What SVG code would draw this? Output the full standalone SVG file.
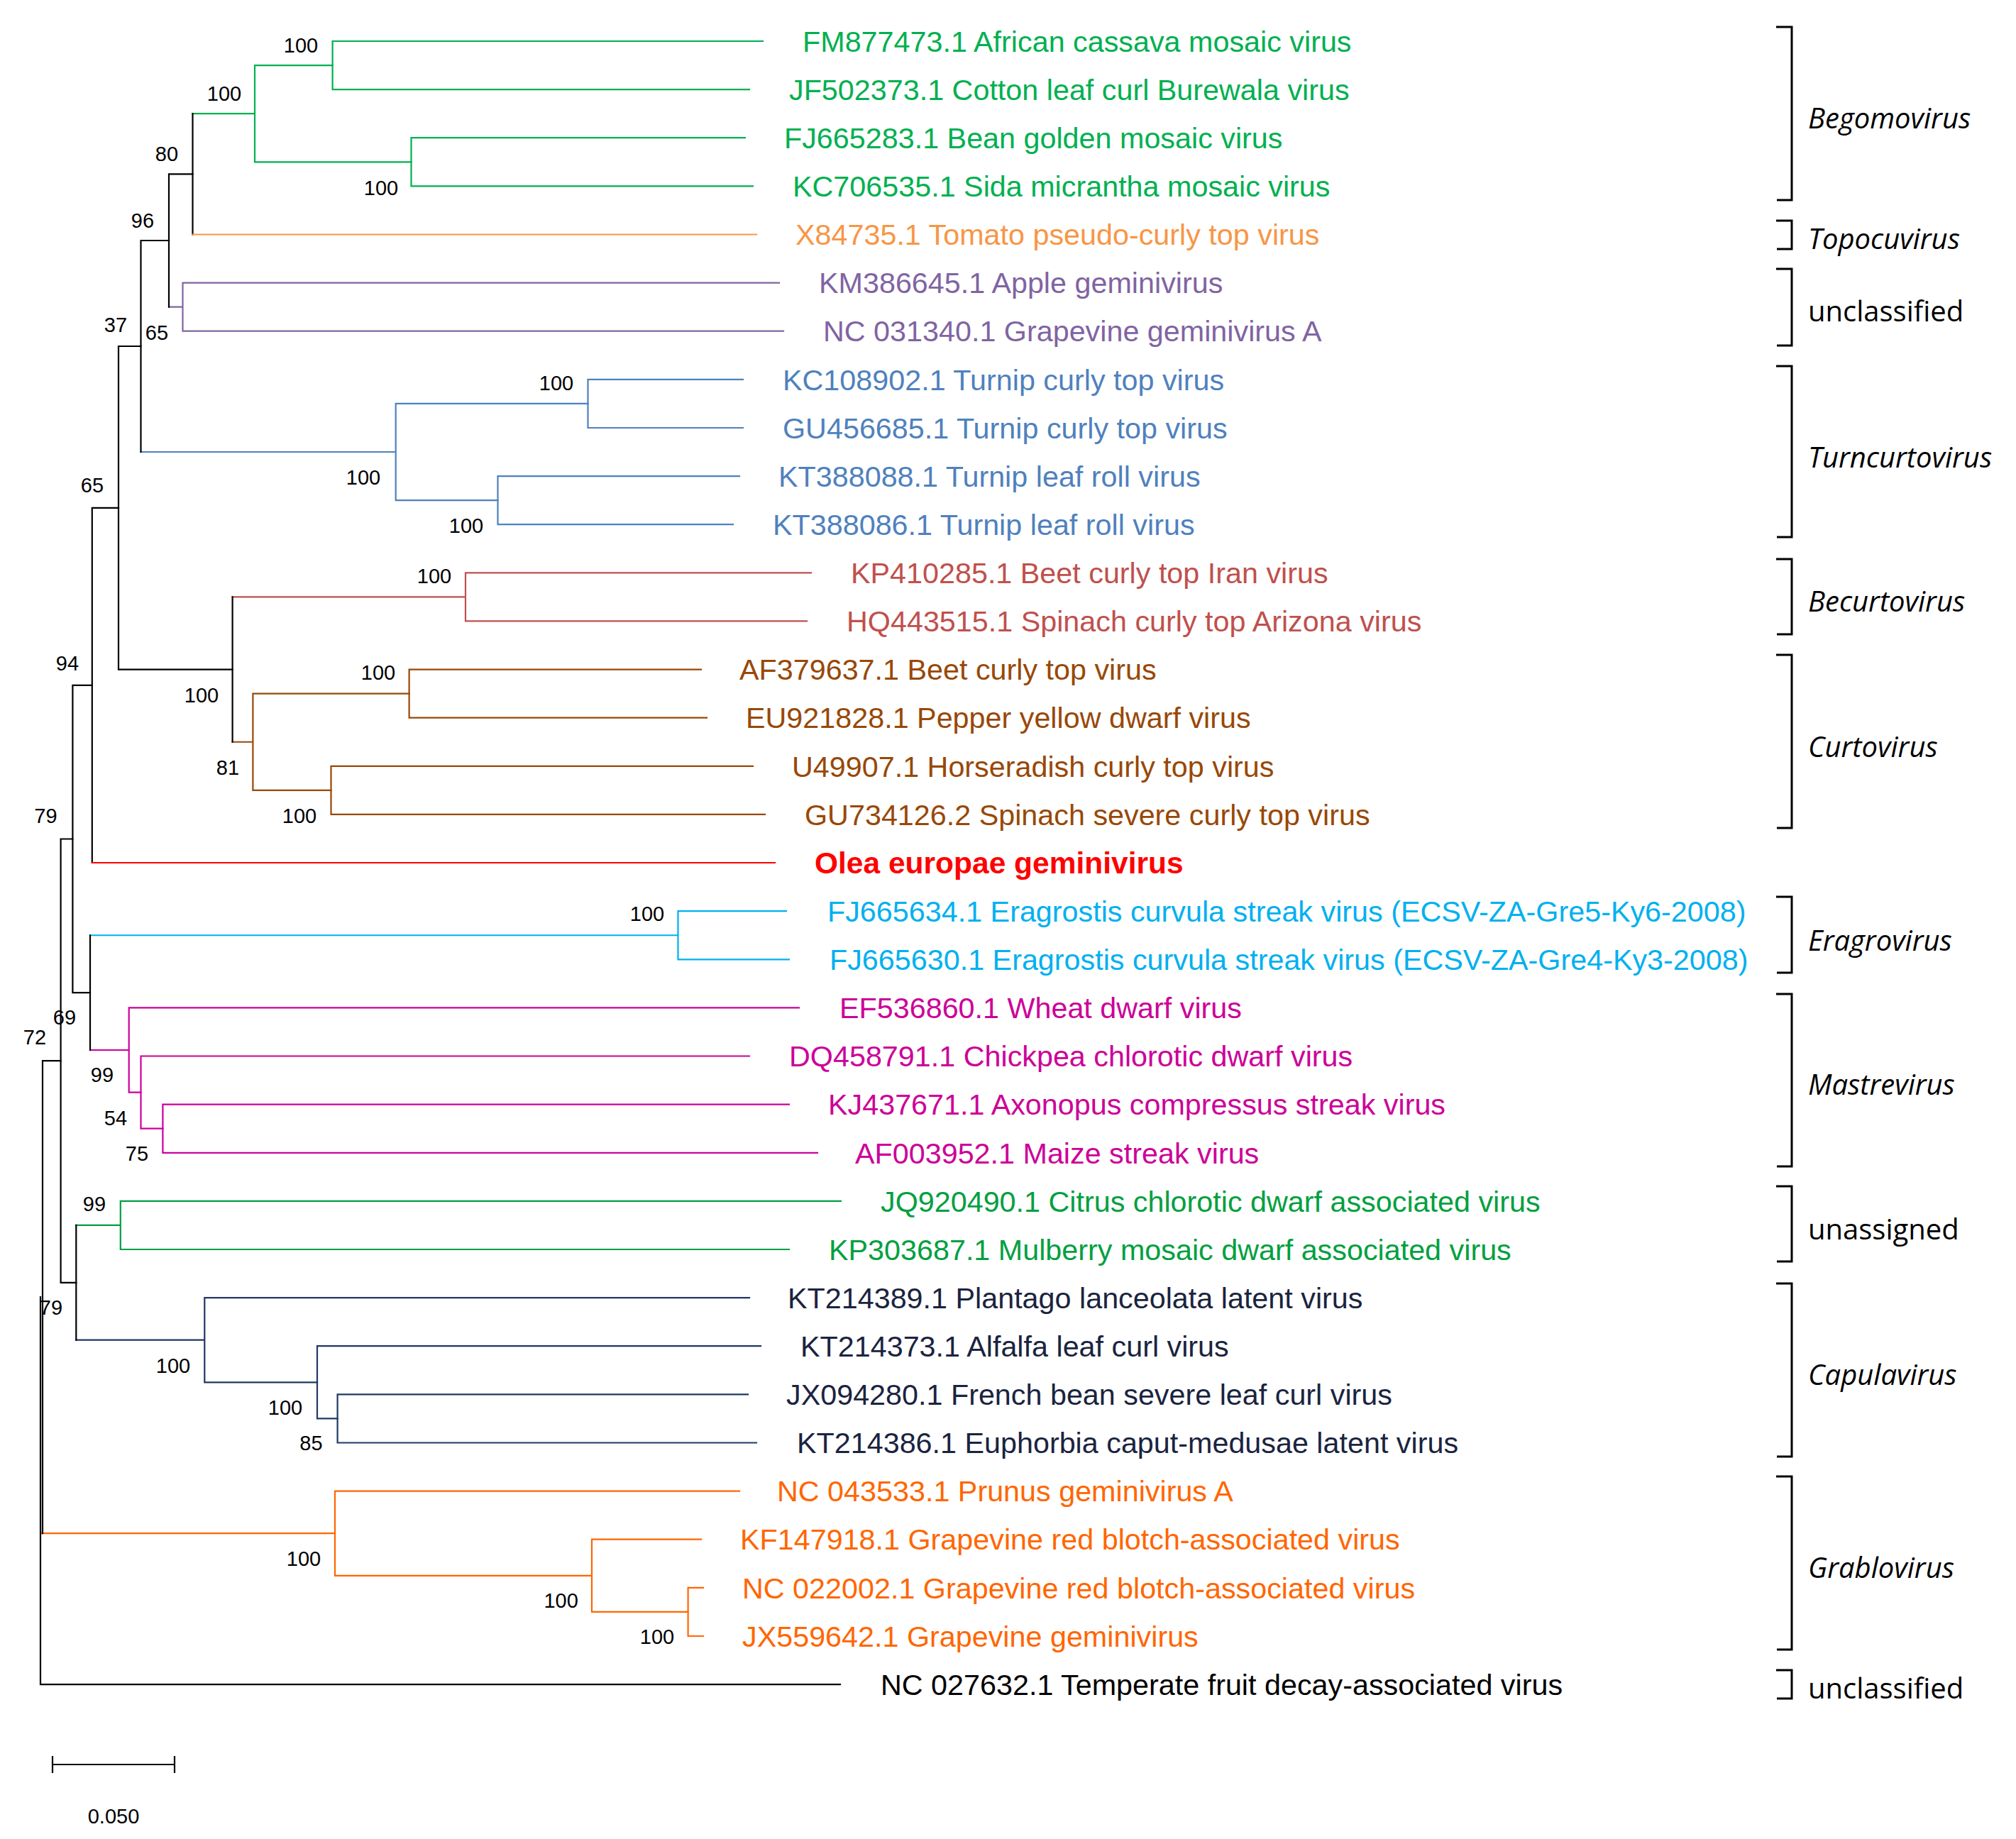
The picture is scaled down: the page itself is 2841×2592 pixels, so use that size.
<svg xmlns="http://www.w3.org/2000/svg" width="2841" height="2592" viewBox="0 0 2841 2592">
<style>
.b{fill:none;stroke-width:2.2;stroke-linecap:square}
.k{stroke:#000}
.g1{stroke:#00B050}.t1{fill:#00B050}
.or{stroke:#F79646}.tor{fill:#F79646}
.pu{stroke:#8064A2}.tpu{fill:#8064A2}
.bl{stroke:#4F81BD}.tbl{fill:#4F81BD}
.rd{stroke:#C0504D}.trd{fill:#C0504D}
.br{stroke:#984807}.tbr{fill:#984807}
.ol{stroke:#FF0000}
.cy{stroke:#00B0F0}.tcy{fill:#00B0F0}
.mg{stroke:#CC0099}.tmg{fill:#CC0099}
.g2{stroke:#00A040}.tg2{fill:#00A040}
.nv{stroke:#1F3864}.tnv{fill:#1A2440}
.go{stroke:#FF6600}.tgo{fill:#FF6600}
.leaf{font-family:"Liberation Sans",Arial,sans-serif;font-size:41.3px}
.olea{font-family:"Liberation Sans",Arial,sans-serif;font-size:42.5px;font-weight:bold;fill:#FF0000}
.bs{font-family:"Liberation Sans",Arial,sans-serif;font-size:29px;fill:#000;text-anchor:middle}
.clade{fill:none;stroke:#000;stroke-width:3}
.cl{font-family:"Open Sans","Noto Sans",sans-serif;font-size:40px;fill:#000}
.it{font-style:italic}
</style>
<g id="connectors">
<path class="b g1" d="M468.6 58V126.1M468.6 58H1075M468.6 126.1H1056"/>
<path class="b g1" d="M579.5 194.2V262.4M579.5 194.2H1050M579.5 262.4H1061"/>
<path class="b g1" d="M359 92.05V228.3M359 92.05H468.6M359 228.3H579.5"/>
<path class="b g1" d="M271.5 160.2H359"/>
<path class="b k" d="M271.5 160.2V330.5"/>
<path class="b or" d="M271.5 330.5H1066"/>
<path class="b pu" d="M257.5 398.6V466.7M257.5 398.6H1098M257.5 466.7H1104M238 432.65H257.5"/>
<path class="b k" d="M238 245.35V432.65M238 245.35H271.5"/>
<path class="b bl" d="M828.5 534.8V603M828.5 534.8H1047M828.5 603H1047"/>
<path class="b bl" d="M701.5 671.1V739.2M701.5 671.1H1042M701.5 739.2H1033"/>
<path class="b bl" d="M557.7 568.9V705.15M557.7 568.9H828.5M557.7 705.15H701.5M198.5 637H557.7"/>
<path class="b k" d="M198.5 339V637M198.5 339H238"/>
<path class="b rd" d="M656 807.3V875.4M656 807.3H1143M656 875.4H1137M327.6 841.35H656"/>
<path class="b br" d="M576.6 943.6V1011.7M576.6 943.6H988M576.6 1011.7H996"/>
<path class="b br" d="M466.5 1079.8V1147.9M466.5 1079.8H1061M466.5 1147.9H1078"/>
<path class="b br" d="M356.4 977.65V1113.85M356.4 977.65H576.6M356.4 1113.85H466.5M327.6 1045.75H356.4"/>
<path class="b k" d="M327.6 841.35V1045.75"/>
<path class="b k" d="M167 488V943.55M167 488H198.5M167 943.55H327.6"/>
<path class="b k" d="M129.8 715.8V1216M129.8 715.8H167"/>
<path class="b ol" d="M129.8 1216H1092"/>
<path class="b cy" d="M955.5 1284.2V1352.3M955.5 1284.2H1108M955.5 1352.3H1112M127 1318.25H955.5"/>
<path class="b mg" d="M229.4 1556.6V1624.8M229.4 1556.6H1112M229.4 1624.8H1152"/>
<path class="b mg" d="M198.5 1488.5V1590.7M198.5 1488.5H1056M198.5 1590.7H229.4"/>
<path class="b mg" d="M181.7 1420.4V1539.6M181.7 1420.4H1126M181.7 1539.6H198.5M127 1480H181.7"/>
<path class="b k" d="M127 1318.25V1480"/>
<path class="b k" d="M102.4 965.9V1399.1M102.4 965.9H129.8M102.4 1399.1H127"/>
<path class="b g2" d="M169.8 1692.9V1761M169.8 1692.9H1185M169.8 1761H1112M107.3 1726.95H169.8"/>
<path class="b nv" d="M475.6 1965.4V2033.5M475.6 1965.4H1054M475.6 2033.5H1066"/>
<path class="b nv" d="M447 1897.2V1999.45M447 1897.2H1072M447 1999.45H475.6"/>
<path class="b nv" d="M288.3 1829.1V1948.3M288.3 1829.1H1056M288.3 1948.3H447M107.3 1888.7H288.3"/>
<path class="b k" d="M107.3 1726.95V1888.7"/>
<path class="b k" d="M85.6 1182.5V1807.8M85.6 1182.5H102.4M85.6 1807.8H107.3"/>
<path class="b go" d="M969.6 2237.8V2306M969.6 2237.8H991M969.6 2306H991"/>
<path class="b go" d="M834 2169.7V2271.9M834 2169.7H988M834 2271.9H969.6"/>
<path class="b go" d="M472 2101.6V2220.8M472 2101.6H1042M472 2220.8H834M58 2161.2H472"/>
<path class="b k" d="M60 1495.15V2161.2M60 1495.15H85.6"/>
<path class="b k" d="M57 1828.2V2374.1M57 2374.1H1184"/>
</g>
<g id="leaves">
<g id="leaf-FM877473"><text class="leaf t1" x="1131" y="72.7">FM877473.1 African cassava mosaic virus</text></g>
<g id="leaf-JF502373"><text class="leaf t1" x="1112" y="140.8">JF502373.1 Cotton leaf curl Burewala virus</text></g>
<g id="leaf-FJ665283"><text class="leaf t1" x="1105" y="208.9">FJ665283.1 Bean golden mosaic virus</text></g>
<g id="leaf-KC706535"><text class="leaf t1" x="1117" y="277.1">KC706535.1 Sida micrantha mosaic virus</text></g>
<g id="leaf-X84735"><text class="leaf tor" x="1121" y="345.2">X84735.1 Tomato pseudo-curly top virus</text></g>
<g id="leaf-KM386645"><text class="leaf tpu" x="1154" y="413.3">KM386645.1 Apple geminivirus</text></g>
<g id="leaf-NC031340"><text class="leaf tpu" x="1160" y="481.4">NC 031340.1 Grapevine geminivirus A</text></g>
<g id="leaf-KC108902"><text class="leaf tbl" x="1103" y="549.5">KC108902.1 Turnip curly top virus</text></g>
<g id="leaf-GU456685"><text class="leaf tbl" x="1103" y="617.7">GU456685.1 Turnip curly top virus</text></g>
<g id="leaf-KT388088"><text class="leaf tbl" x="1097" y="685.8">KT388088.1 Turnip leaf roll virus</text></g>
<g id="leaf-KT388086"><text class="leaf tbl" x="1089" y="753.9">KT388086.1 Turnip leaf roll virus</text></g>
<g id="leaf-KP410285"><text class="leaf trd" x="1199" y="822">KP410285.1 Beet curly top Iran virus</text></g>
<g id="leaf-HQ443515"><text class="leaf trd" x="1193" y="890.1">HQ443515.1 Spinach curly top Arizona virus</text></g>
<g id="leaf-AF379637"><text class="leaf tbr" x="1042" y="958.3">AF379637.1 Beet curly top virus</text></g>
<g id="leaf-EU921828"><text class="leaf tbr" x="1051" y="1026.4">EU921828.1 Pepper yellow dwarf virus</text></g>
<g id="leaf-U49907"><text class="leaf tbr" x="1116" y="1094.5">U49907.1 Horseradish curly top virus</text></g>
<g id="leaf-GU734126"><text class="leaf tbr" x="1134" y="1162.6">GU734126.2 Spinach severe curly top virus</text></g>
<g id="leaf-Olea"><text class="olea" x="1148" y="1231">Olea europae geminivirus</text></g>
<g id="leaf-FJ665634"><text class="leaf tcy" x="1166" y="1298.9">FJ665634.1 Eragrostis curvula streak virus (ECSV-ZA-Gre5-Ky6-2008)</text></g>
<g id="leaf-FJ665630"><text class="leaf tcy" x="1169" y="1367">FJ665630.1 Eragrostis curvula streak virus (ECSV-ZA-Gre4-Ky3-2008)</text></g>
<g id="leaf-EF536860"><text class="leaf tmg" x="1183" y="1435.1">EF536860.1 Wheat dwarf virus</text></g>
<g id="leaf-DQ458791"><text class="leaf tmg" x="1112" y="1503.2">DQ458791.1 Chickpea chlorotic dwarf virus</text></g>
<g id="leaf-KJ437671"><text class="leaf tmg" x="1167" y="1571.3">KJ437671.1 Axonopus compressus streak virus</text></g>
<g id="leaf-AF003952"><text class="leaf tmg" x="1205" y="1639.5">AF003952.1 Maize streak virus</text></g>
<g id="leaf-JQ920490"><text class="leaf tg2" x="1241" y="1707.6">JQ920490.1 Citrus chlorotic dwarf associated virus</text></g>
<g id="leaf-KP303687"><text class="leaf tg2" x="1168" y="1775.7">KP303687.1 Mulberry mosaic dwarf associated virus</text></g>
<g id="leaf-KT214389"><text class="leaf tnv" x="1110" y="1843.8">KT214389.1 Plantago lanceolata latent virus</text></g>
<g id="leaf-KT214373"><text class="leaf tnv" x="1128" y="1911.9">KT214373.1 Alfalfa leaf curl virus</text></g>
<g id="leaf-JX094280"><text class="leaf tnv" x="1108" y="1980.1">JX094280.1 French bean severe leaf curl virus</text></g>
<g id="leaf-KT214386"><text class="leaf tnv" x="1123" y="2048.2">KT214386.1 Euphorbia caput-medusae latent virus</text></g>
<g id="leaf-NC043533"><text class="leaf tgo" x="1095" y="2116.3">NC 043533.1 Prunus geminivirus A</text></g>
<g id="leaf-KF147918"><text class="leaf tgo" x="1043" y="2184.4">KF147918.1 Grapevine red blotch-associated virus</text></g>
<g id="leaf-NC022002"><text class="leaf tgo" x="1046" y="2252.5">NC 022002.1 Grapevine red blotch-associated virus</text></g>
<g id="leaf-JX559642"><text class="leaf tgo" x="1046" y="2320.7">JX559642.1 Grapevine geminivirus</text></g>
<g id="leaf-NC027632"><text class="leaf" x="1241" y="2388.8" fill="#000">NC 027632.1 Temperate fruit decay-associated virus</text></g>
</g>
<g id="bootstrap">
<text class="bs" x="424" y="73.6">100</text>
<text class="bs" x="316" y="141.5">100</text>
<text class="bs" x="537" y="274.5">100</text>
<text class="bs" x="235" y="226.8">80</text>
<text class="bs" x="201" y="320.5">96</text>
<text class="bs" x="221" y="478.6">65</text>
<text class="bs" x="163" y="468">37</text>
<text class="bs" x="784" y="550">100</text>
<text class="bs" x="512" y="683">100</text>
<text class="bs" x="130" y="693.8">65</text>
<text class="bs" x="657" y="750.5">100</text>
<text class="bs" x="612" y="822">100</text>
<text class="bs" x="95" y="944.6">94</text>
<text class="bs" x="284" y="990">100</text>
<text class="bs" x="533" y="958">100</text>
<text class="bs" x="321" y="1092">81</text>
<text class="bs" x="64.5" y="1159.8">79</text>
<text class="bs" x="422" y="1159.8">100</text>
<text class="bs" x="912" y="1298">100</text>
<text class="bs" x="91" y="1443.8">69</text>
<text class="bs" x="49" y="1471.9">72</text>
<text class="bs" x="144" y="1525.4">99</text>
<text class="bs" x="163" y="1585.7">54</text>
<text class="bs" x="193" y="1636">75</text>
<text class="bs" x="133" y="1707">99</text>
<text class="bs" x="72" y="1852.7">79</text>
<text class="bs" x="244" y="1934.8">100</text>
<text class="bs" x="402" y="1994">100</text>
<text class="bs" x="438.5" y="2044">85</text>
<text class="bs" x="428" y="2207">100</text>
<text class="bs" x="790.6" y="2266">100</text>
<text class="bs" x="926" y="2317">100</text>
</g>
<g id="clades">
<g id="clade-Begomovirus"><path class="clade" d="M2503 38H2525V282H2504"/><text class="cl it" x="2548" y="181">Begomovirus</text></g>
<g id="clade-Topocuvirus"><path class="clade" d="M2503 311H2525V351H2504"/><text class="cl it" x="2548" y="351">Topocuvirus</text></g>
<g id="clade-unclassified1"><path class="clade" d="M2503 379H2525V487H2504"/><text class="cl" x="2548" y="453">unclassified</text></g>
<g id="clade-Turncurtovirus"><path class="clade" d="M2503 516H2525V757H2504"/><text class="cl it" x="2548" y="659">Turncurtovirus</text></g>
<g id="clade-Becurtovirus"><path class="clade" d="M2503 788H2525V894H2504"/><text class="cl it" x="2548" y="862">Becurtovirus</text></g>
<g id="clade-Curtovirus"><path class="clade" d="M2503 923H2525V1167H2504"/><text class="cl it" x="2548" y="1067">Curtovirus</text></g>
<g id="clade-Eragrovirus"><path class="clade" d="M2503 1264H2525V1371H2504"/><text class="cl it" x="2548" y="1340">Eragrovirus</text></g>
<g id="clade-Mastrevirus"><path class="clade" d="M2503 1401H2525V1644H2504"/><text class="cl it" x="2548" y="1543">Mastrevirus</text></g>
<g id="clade-unassigned"><path class="clade" d="M2503 1672H2525V1778H2504"/><text class="cl" x="2548" y="1747">unassigned</text></g>
<g id="clade-Capulavirus"><path class="clade" d="M2503 1809H2525V2053H2504"/><text class="cl it" x="2548" y="1952">Capulavirus</text></g>
<g id="clade-Grablovirus"><path class="clade" d="M2503 2081H2525V2325H2504"/><text class="cl it" x="2548" y="2224">Grablovirus</text></g>
<g id="clade-unclassified2"><path class="clade" d="M2503 2354H2525V2394H2504"/><text class="cl" x="2548" y="2394">unclassified</text></g>
</g>
<g id="scale-bar">
<path fill="none" stroke="#000" stroke-width="2.2" d="M74 2487H246M74 2475V2499M246 2475V2499"/>
<text class="bs" x="160" y="2570">0.050</text>
</g>
</svg>
